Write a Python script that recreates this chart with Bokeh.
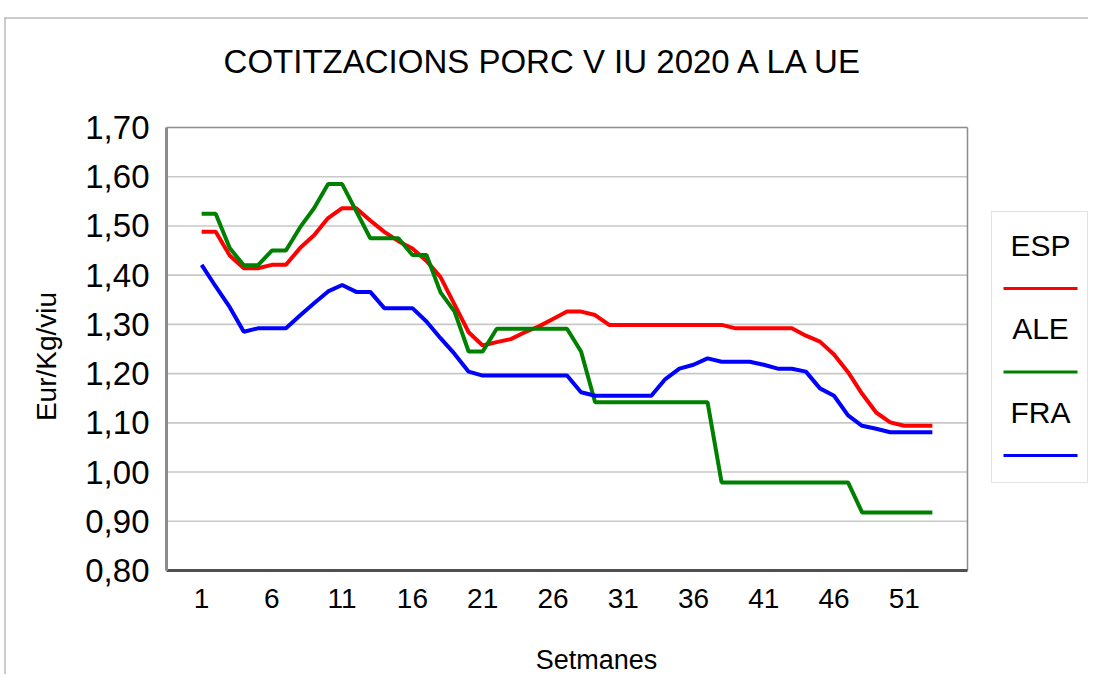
from bokeh.plotting import figure
from bokeh.models import Range1d, FixedTicker, Label, BoxAnnotation
from bokeh.embed import file_html
from bokeh.resources import INLINE

# ---------------- data ----------------
weeks = list(range(1, 54))
esp = [1.488, 1.488, 1.440, 1.414, 1.414, 1.421, 1.421, 1.455, 1.481, 1.516,
       1.536, 1.536, 1.511, 1.488, 1.469, 1.454, 1.429, 1.396, 1.340, 1.284,
       1.257, 1.264, 1.270, 1.284, 1.296, 1.311, 1.326, 1.326, 1.319, 1.299,
       1.299, 1.299, 1.299, 1.299, 1.299, 1.299, 1.299, 1.299, 1.292, 1.292,
       1.292, 1.292, 1.292, 1.277, 1.265, 1.239, 1.203, 1.159, 1.121, 1.101,
       1.094, 1.094, 1.094]
ale = [1.525, 1.525, 1.455, 1.420, 1.420, 1.450, 1.450, 1.497, 1.536, 1.585,
       1.585, 1.530, 1.475, 1.475, 1.475, 1.441, 1.441, 1.365, 1.326, 1.245,
       1.245, 1.291, 1.291, 1.291, 1.291, 1.291, 1.291, 1.245, 1.142, 1.142,
       1.142, 1.142, 1.142, 1.142, 1.142, 1.142, 1.142, 0.979, 0.979, 0.979,
       0.979, 0.979, 0.979, 0.979, 0.979, 0.979, 0.979, 0.918, 0.918, 0.918,
       0.918, 0.918, 0.918]
fra = [1.421, 1.377, 1.335, 1.285, 1.292, 1.292, 1.292, 1.318, 1.343, 1.367,
       1.380, 1.366, 1.366, 1.333, 1.333, 1.333, 1.306, 1.272, 1.240, 1.204,
       1.196, 1.196, 1.196, 1.196, 1.196, 1.196, 1.196, 1.162, 1.155, 1.155,
       1.155, 1.155, 1.155, 1.189, 1.210, 1.218, 1.231, 1.224, 1.224, 1.224,
       1.218, 1.210, 1.210, 1.204, 1.170, 1.155, 1.115, 1.094, 1.088, 1.081,
       1.081, 1.081, 1.081]
series_names = ["ESP", "ALE", "FRA"]
series_colors = ["#ff0000", "#008000", "#0000ff"]
x_ticks = [1, 6, 11, 16, 21, 26, 31, 36, 41, 46, 51]
y_ticks = [0.8, 0.9, 1.0, 1.1, 1.2, 1.3, 1.4, 1.5, 1.6, 1.7]
y_tick_labels = ["0,80", "0,90", "1,00", "1,10", "1,20", "1,30", "1,40", "1,50", "1,60", "1,70"]
title_text = "COTITZACIONS PORC V IU 2020 A LA UE"
x_title = "Setmanes"
y_title = "Eur/Kg/viu"

# ---------------- layout ----------------
W, H = 1088, 674
FL, FT = 166, 127          # plot-area left / top (px)
PW, FH = 801, 443          # plot-area width / height (px)
X0, XP = -1.5, 55.5        # x extent of the plot area
Y0, Y1 = 0.8, 1.7
PXU = PW / (XP - X0)       # px per week
PYU = FH / (Y1 - Y0)       # px per EUR
XL, XR = X0 - FL / PXU, X0 + (W - FL) / PXU
YT, YB = Y1 + FT / PYU, Y1 - (H - FT) / PYU
FONT = "Liberation Sans"

def dx(px):
    return X0 + (px - FL) / PXU

def dy(py):
    return Y1 - (py - FT) / PYU

p = figure(width=W, height=H, output_backend="svg", toolbar_location=None,
           x_range=Range1d(XL, XR), y_range=Range1d(YB, YT),
           min_border=0, min_border_left=0, min_border_right=0,
           min_border_top=0, min_border_bottom=0)
p.background_fill_color = "white"
p.border_fill_color = "white"
p.outline_line_color = None

# axes drawn at the plot-area edges
p.xaxis.fixed_location = Y0
p.yaxis.fixed_location = X0
p.xaxis.bounds = (X0, XP)
p.yaxis.bounds = (Y0, Y1)
p.xaxis.ticker = FixedTicker(ticks=x_ticks)
p.yaxis.ticker = FixedTicker(ticks=y_ticks)
p.yaxis.major_label_overrides = {t: l for t, l in zip(y_ticks, y_tick_labels)}
for ax in (p.xaxis[0], p.yaxis[0]):
    ax.major_tick_line_color = None
    ax.minor_tick_line_color = None
    ax.major_tick_out = 0
    ax.major_tick_in = 0
    ax.major_label_text_font = FONT
    ax.major_label_text_color = "black"
p.yaxis.axis_line_color = "#8c8c8c"
p.yaxis.axis_line_width = 3
p.xaxis.axis_line_color = "#505050"
p.xaxis.axis_line_width = 3
p.yaxis.major_label_text_font_size = "33px"
p.xaxis.major_label_text_font_size = "28px"
p.yaxis.major_label_standoff = 17
p.xaxis.major_label_standoff = 18

# grid limited to the plot area
p.xgrid.grid_line_color = None
p.ygrid.grid_line_color = None
inner = [t for t in y_ticks if Y0 < t < Y1]
p.segment(x0=[X0] * len(inner), y0=inner, x1=[XP] * len(inner), y1=inner,
          line_color="#c8c8c8", line_width=1.6)
# plot-area border (top and right)
p.segment(x0=[X0, XP], y0=[Y1, Y0], x1=[XP, XP], y1=[Y1, Y1],
          line_color="#8c8c8c", line_width=1.5)
# outer chart-area border (top and left)
p.segment(x0=[dx(4), dx(4.5)], y0=[dy(17.5), dy(17)], x1=[dx(1088), dx(4.5)], y1=[dy(17.5), dy(674)],
          line_color="#9a9a9a", line_width=1)

# data lines
for vals, col in zip([esp, ale, fra], series_colors):
    p.line(weeks, vals, line_color=col, line_width=4)

# titles
p.add_layout(Label(x=dx(544), y=dy(61), text=title_text, text_font=FONT,
                   text_font_size="33px", text_align="center", text_baseline="middle",
                   text_color="black"))
p.add_layout(Label(x=dx(596), y=dy(659), text=x_title, text_font=FONT,
                   text_font_size="27px", text_align="center", text_baseline="middle",
                   text_color="black"))
p.add_layout(Label(x=dx(46), y=dy(356), text=y_title, text_font=FONT,
                   text_font_size="28px", text_align="center", text_baseline="middle",
                   angle=90, angle_units="deg", text_color="black"))

# legend (labels above sample lines)
p.add_layout(BoxAnnotation(left=dx(991), right=dx(1087), top=dy(211), bottom=dy(482),
                           fill_color="white", fill_alpha=1, line_color="#a0a0a0", line_width=1))
label_y = [245, 328, 412]
line_y = [288, 371.5, 455]
for name, col, ly, sy in zip(series_names, series_colors, label_y, line_y):
    p.add_layout(Label(x=dx(1040), y=dy(ly), text=name, text_font=FONT,
                       text_font_size="30px", text_align="center", text_baseline="middle",
                       text_color="black"))
    p.add_layout(BoxAnnotation(left=dx(1003), right=dx(1077), top=dy(sy - 1.5), bottom=dy(sy + 1.5),
                               fill_color=col, fill_alpha=1, line_color=None))

open("out.html", "w").write(file_html(p, INLINE))
